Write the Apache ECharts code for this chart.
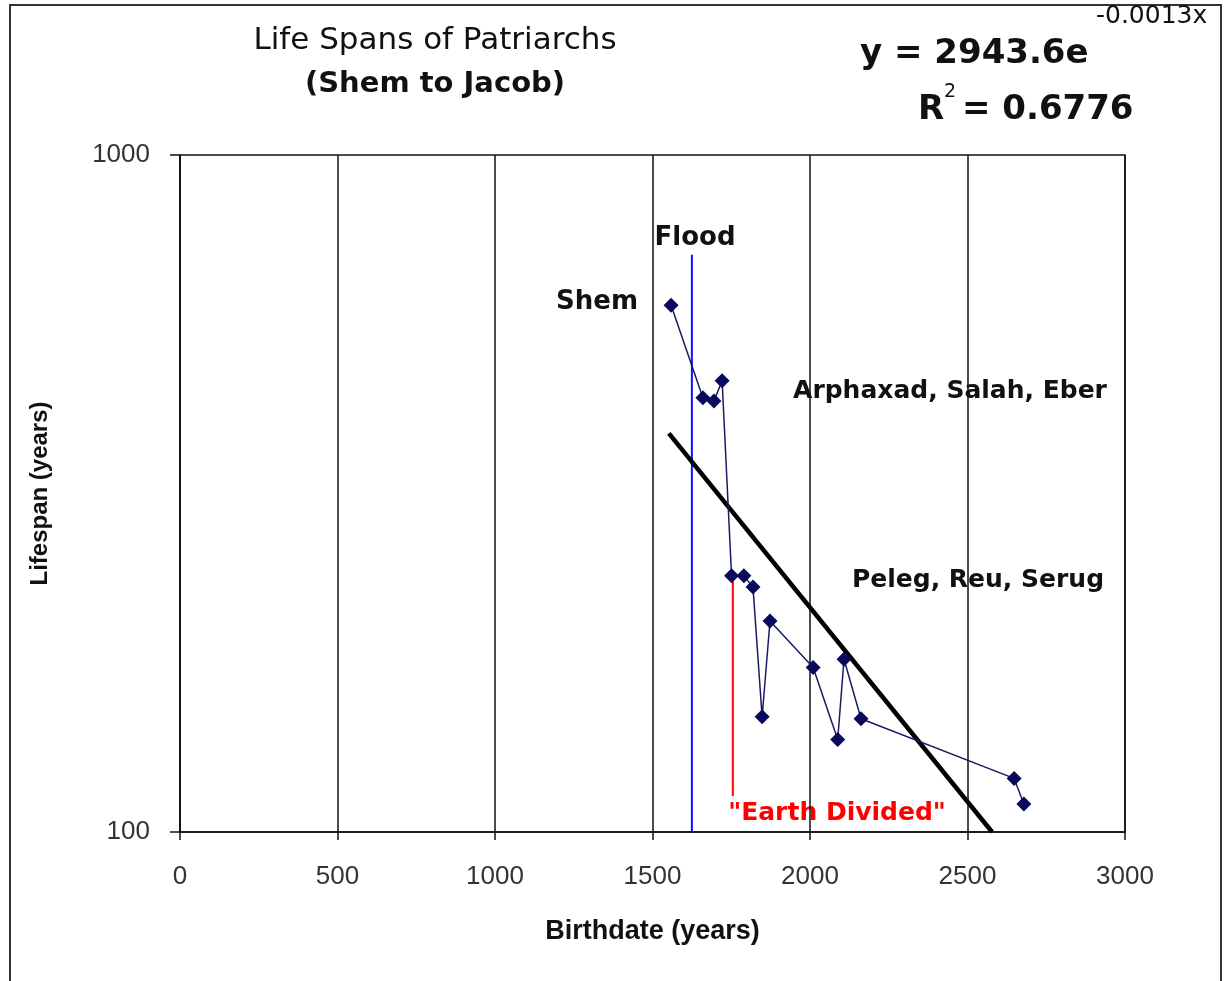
<!DOCTYPE html>
<html>
<head>
<meta charset="utf-8">
<title>Life Spans of Patriarchs</title>
<script src="https://cdn.jsdelivr.net/npm/echarts@6/dist/echarts.min.js"></script>
<style>
  html, body { margin: 0; padding: 0; background: #fff; }
  #chart { width: 1224px; height: 981px; }
</style>
</head>
<body>
<div id="chart"></div>
<script>
// birth year (years after creation) and lifespan of each patriarch, Shem .. Jacob and after
const birthYears = [1559, 1660, 1695, 1721, 1751, 1790, 1819, 1848, 1873, 2010, 2088, 2108, 2162, 2648, 2679];
const lifespans = [600, 438, 433, 464, 239, 239, 230, 148, 205, 175, 137, 180, 147, 120, 110];

// exponential trend line, straight on the log axis, read at its two ends
const trendX = [1552, 2578];
const trendY = [388, 100];

// marker lines
const floodX = [1625, 1625];
const floodY = [100, 712];
const dividedX = [1755, 1755];
const dividedY = [239, 113];

const xTicks = [0, 500, 1000, 1500, 2000, 2500, 3000];
const yTicks = [100, 1000];

const zip = (xs, ys) => xs.map((x, i) => [x, ys[i]]);

const boldFont = '"DejaVu Sans", "Liberation Sans", sans-serif';

const chart = echarts.init(document.getElementById("chart"));

chart.setOption({
  animation: false,
  backgroundColor: "#fff",
  grid: {
    left: 180,
    right: 99,
    top: 155,
    bottom: 149,
    show: true,
    borderColor: "#111",
    borderWidth: 1.5,
  },
  xAxis: {
    type: "value",
    min: xTicks[0],
    max: xTicks[xTicks.length - 1],
    interval: 500,
    name: "Birthdate (years)",
    nameLocation: "middle",
    nameGap: 86,
    nameTextStyle: {
      color: "#111",
      fontFamily: "Liberation Sans",
      fontWeight: "bold",
      fontSize: 27,
    },
    axisLine: { lineStyle: { color: "#111", width: 1.5 } },
    axisTick: { show: true, inside: false, length: 8, lineStyle: { color: "#111", width: 1.5 } },
    axisLabel: {
      margin: 32,
      color: "#333",
      fontFamily: "Liberation Sans",
      fontSize: 26,
      formatter: (v) => String(v),
    },
    splitLine: { show: true, lineStyle: { color: "#111", width: 1.5 } },
  },
  yAxis: {
    type: "log",
    logBase: 10,
    min: yTicks[0],
    max: yTicks[1],
    name: "Lifespan (years)",
    nameLocation: "middle",
    nameGap: 128,
    nameRotate: 90,
    nameTextStyle: {
      color: "#111",
      fontFamily: "Liberation Sans",
      fontWeight: "bold",
      fontSize: 24,
    },
    axisLine: { show: true, lineStyle: { color: "#111", width: 1.5 } },
    axisTick: { show: true, inside: false, length: 10, lineStyle: { color: "#111", width: 1.5 } },
    axisLabel: {
      margin: 30,
      color: "#333",
      fontFamily: "Liberation Sans",
      fontSize: 26,
      formatter: (v) => String(v),
    },
    splitLine: { show: false },
  },
  series: [
    {
      name: "Flood",
      type: "line",
      data: zip(floodX, floodY),
      symbol: "none",
      lineStyle: { color: "#1010ff", width: 2 },
      z: 1,
    },
    {
      name: "Earth Divided",
      type: "line",
      data: zip(dividedX, dividedY),
      symbol: "none",
      lineStyle: { color: "#ff0000", width: 2 },
      z: 1,
    },
    {
      name: "Lifespan",
      type: "line",
      data: zip(birthYears, lifespans),
      symbol: "diamond",
      symbolSize: 15,
      itemStyle: { color: "#0a0a5c" },
      lineStyle: { color: "#1a1a66", width: 1.5 },
      z: 3,
    },
    {
      name: "Trend",
      type: "line",
      data: zip(trendX, trendY),
      symbol: "none",
      lineStyle: { color: "#000", width: 4.5 },
      z: 2,
    },
  ],
  graphic: [
    {
      type: "rect",
      shape: { x: 10, y: 5, width: 1211, height: 990 },
      style: { fill: null, stroke: "#333", lineWidth: 2 },
      silent: true,
    },
    {
      type: "text",
      x: 435,
      y: 41,
      style: {
        text: "Life Spans of Patriarchs",
        fill: "#111",
        font: "31px " + boldFont,
        align: "center",
        verticalAlign: "middle",
      },
    },
    {
      type: "text",
      x: 435,
      y: 84,
      style: {
        text: "(Shem to Jacob)",
        fill: "#111",
        font: "bold 29px " + boldFont,
        align: "center",
        verticalAlign: "middle",
      },
    },
    {
      type: "text",
      x: 860,
      y: 54,
      style: {
        text: "y = 2943.6e",
        fill: "#111",
        font: "bold 34px " + boldFont,
        align: "left",
        verticalAlign: "middle",
      },
    },
    {
      type: "text",
      x: 1096,
      y: 16,
      style: {
        text: "-0.0013x",
        fill: "#111",
        font: "25px " + boldFont,
        align: "left",
        verticalAlign: "middle",
      },
    },
    {
      type: "text",
      x: 918,
      y: 110,
      style: {
        text: "R",
        fill: "#111",
        font: "bold 34px " + boldFont,
        align: "left",
        verticalAlign: "middle",
      },
    },
    {
      type: "text",
      x: 944,
      y: 92,
      style: {
        text: "2",
        fill: "#111",
        font: "19px " + boldFont,
        align: "left",
        verticalAlign: "middle",
      },
    },
    {
      type: "text",
      x: 962,
      y: 110,
      style: {
        text: "= 0.6776",
        fill: "#111",
        font: "bold 34px " + boldFont,
        align: "left",
        verticalAlign: "middle",
      },
    },
    {
      type: "text",
      x: 695,
      y: 238,
      style: {
        text: "Flood",
        fill: "#111",
        font: "bold 26px " + boldFont,
        align: "center",
        verticalAlign: "middle",
      },
    },
    {
      type: "text",
      x: 597,
      y: 302,
      style: {
        text: "Shem",
        fill: "#111",
        font: "bold 26px " + boldFont,
        align: "center",
        verticalAlign: "middle",
      },
    },
    {
      type: "text",
      x: 950,
      y: 391,
      style: {
        text: "Arphaxad, Salah, Eber",
        fill: "#111",
        font: "bold 25px " + boldFont,
        align: "center",
        verticalAlign: "middle",
      },
    },
    {
      type: "text",
      x: 978,
      y: 580,
      style: {
        text: "Peleg, Reu, Serug",
        fill: "#111",
        font: "bold 25px " + boldFont,
        align: "center",
        verticalAlign: "middle",
      },
    },
    {
      type: "text",
      x: 837,
      y: 813,
      style: {
        text: "\"Earth Divided\"",
        fill: "#ff0000",
        font: "bold 25px " + boldFont,
        align: "center",
        verticalAlign: "middle",
      },
    },
  ],
});
</script>
</body>
</html>
